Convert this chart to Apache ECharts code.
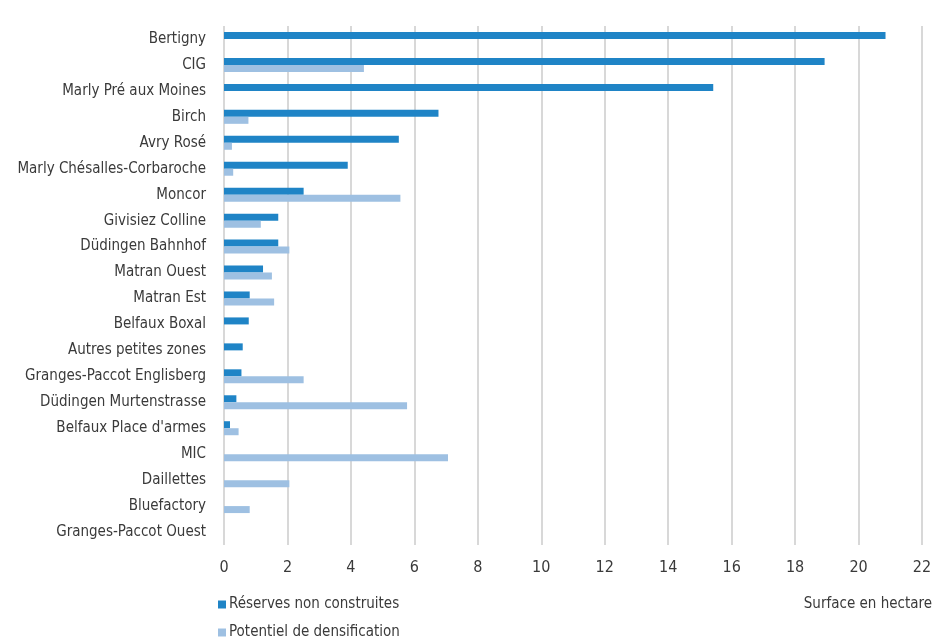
<!DOCTYPE html>
<html>
<head>
<meta charset="utf-8">
<script src="https://cdn.jsdelivr.net/npm/echarts@6/dist/echarts.min.js"></script>
<style>
  html, body { margin: 0; padding: 0; background: #ffffff; }
  #chart { width: 935px; height: 639px; }
</style>
</head>
<body>
<div id="chart"></div>
<script>
// Zones d'activités, surfaces en hectare
const zones = [
  'Bertigny', 'CIG', 'Marly Pré aux Moines', 'Birch', 'Avry Rosé',
  'Marly Chésalles-Corbaroche', 'Moncor', 'Givisiez Colline', 'Düdingen Bahnhof',
  'Matran Ouest', 'Matran Est', 'Belfaux Boxal', 'Autres petites zones',
  'Granges-Paccot Englisberg', 'Düdingen Murtenstrasse', "Belfaux Place d'armes",
  'MIC', 'Daillettes', 'Bluefactory', 'Granges-Paccot Ouest'
];
const reserves = [
  20.85, 18.93, 15.42, 6.76, 5.51,
  3.90, 2.51, 1.71, 1.71,
  1.23, 0.81, 0.78, 0.59,
  0.55, 0.39, 0.19,
  0, 0, 0, 0
];
const densification = [
  0, 4.41, 0, 0.77, 0.25,
  0.29, 5.56, 1.16, 2.06,
  1.51, 1.58, 0, 0,
  2.51, 5.77, 0.46,
  7.06, 2.06, 0.81, 0
];
const seriesNames = ['Réserves non construites', 'Potentiel de densification'];
const axisTitle = 'Surface en hectare';

const FONT = '"Liberation Sans Narrow", "DejaVu Sans Condensed", "Roboto", sans-serif';
const TEXT = '#3a3a3a';

const legendBase = {
  orient: 'horizontal',
  left: 213,
  itemWidth: 8, itemHeight: 8,
  icon: 'rect',
  textStyle: { color: TEXT, fontFamily: FONT, fontSize: 15, padding: [0, 0, 0, -2] }
};

const chart = echarts.init(document.getElementById('chart'));
chart.setOption({
  animation: false,
  backgroundColor: '#ffffff',
  grid: { left: 224, right: 13, top: 26, bottom: 94, containLabel: false },
  xAxis: {
    type: 'value',
    min: 0, max: 22, interval: 2,
    axisLine: { show: false },
    axisTick: { show: false },
    splitLine: { show: true, lineStyle: { color: '#d8d8d8', width: 2 } },
    axisLabel: { color: TEXT, fontFamily: FONT, fontSize: 16, margin: 15 }
  },
  yAxis: {
    type: 'category',
    data: zones,
    inverse: true,
    axisLine: { show: false },
    axisTick: { show: false },
    axisLabel: { color: TEXT, fontFamily: FONT, fontSize: 15, margin: 18 }
  },
  legend: [
    Object.assign({}, legendBase, { top: 592, data: [seriesNames[0]] }),
    Object.assign({}, legendBase, { top: 620, data: [seriesNames[1]] })
  ],
  graphic: [{
    type: 'text',
    right: 3, top: 597,
    style: { text: axisTitle, fill: TEXT, font: '15px ' + FONT }
  }],
  series: [
    {
      name: seriesNames[0], type: 'bar', data: reserves,
      itemStyle: { color: '#1f84c6' },
      barWidth: 7, barGap: '0%'
    },
    {
      name: seriesNames[1], type: 'bar', data: densification,
      itemStyle: { color: '#9ec0e2' },
      barWidth: 7, barGap: '0%'
    }
  ]
});
</script>
</body>
</html>
